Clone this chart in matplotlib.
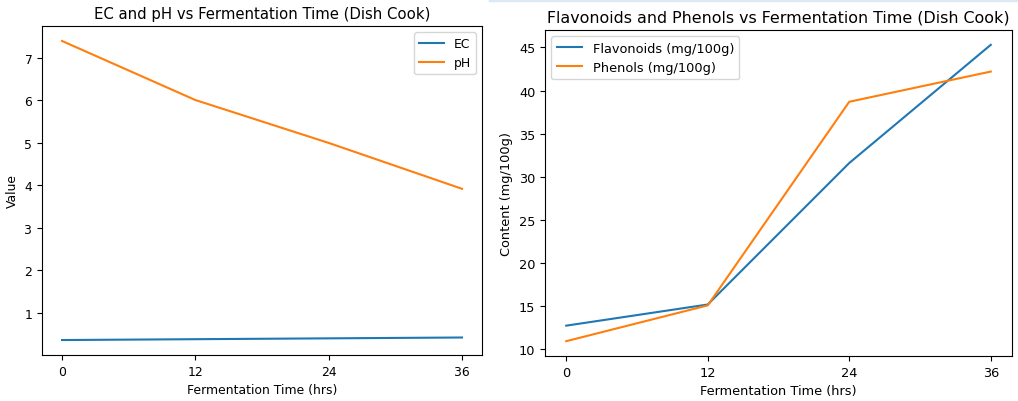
import matplotlib
matplotlib.use("Agg")
import matplotlib.pyplot as plt
from matplotlib.lines import Line2D

# ================================
# Data
# ================================

time_hrs = [0, 12, 24, 36]

ec = [0.36, 0.38, 0.40, 0.42]
ph = [7.40, 6.01, 5.0, 3.92]

flavonoids = [12.75, 15.2, 31.6, 45.3]
phenols = [10.95, 15.1, 38.7, 42.2]

W, H = 1018, 402

fig = plt.figure(figsize=(W / 100, H / 100), dpi=100)

# ================================
# Left: EC and pH
# ================================

fs1, ts1 = 8.9, 10.7
ax1 = fig.add_axes([42 / W, 1 - 356 / H, 440 / W, 329 / H])
ax1.plot(time_hrs, ec, label="EC")
ax1.plot(time_hrs, ph, label="pH")
ax1.set_xticks(time_hrs)
ax1.tick_params(labelsize=fs1)
ax1.set_xlabel("Fermentation Time (hrs)", fontsize=fs1)
ax1.set_ylabel("Value", fontsize=fs1)
ax1.set_title("EC and pH vs Fermentation Time (Dish Cook)", fontsize=ts1)
ax1.legend(loc="upper right", fontsize=fs1)

# ================================
# Right: Flavonoids and Phenols (a touch larger text)
# ================================

fs2, ts2 = 9.25, 11.4
ax2 = fig.add_axes([545 / W, 1 - 357 / H, 467 / W, 326 / H])
ax2.plot(time_hrs, flavonoids, label="Flavonoids (mg/100g)")
ax2.plot(time_hrs, phenols, label="Phenols (mg/100g)")
ax2.set_xticks(time_hrs)
ax2.tick_params(labelsize=fs2)
ax2.set_xlabel("Fermentation Time (hrs)", fontsize=fs2)
ax2.set_ylabel("Content (mg/100g)", fontsize=fs2)
ax2.set_title("Flavonoids and Phenols vs Fermentation Time (Dish Cook)", fontsize=ts2)
ax2.legend(loc="upper left", fontsize=fs2)

# thin light strip along the top of the right half
fig.add_artist(Line2D([490 / W, 1], [1 - 1 / H, 1 - 1 / H], color="#dce8f4", lw=2.5))

fig.savefig("out.png", dpi=100)
